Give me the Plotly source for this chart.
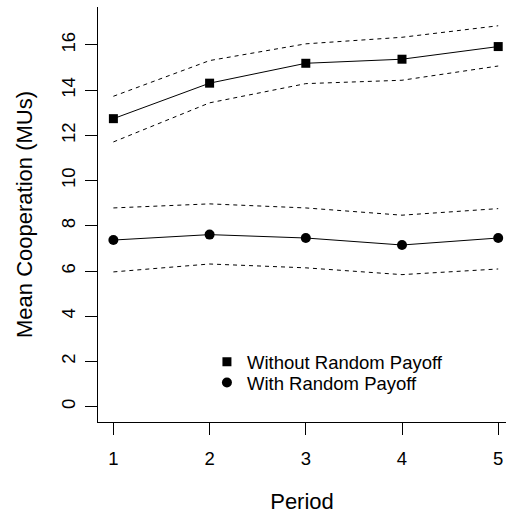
import plotly.graph_objects as go

periods = [1, 2, 3, 4, 5]

without_mean = [12.74, 14.31, 15.19, 15.37, 15.93]
without_upper = [13.73, 15.31, 16.05, 16.34, 16.85]
without_lower = [11.71, 13.44, 14.29, 14.44, 15.07]

with_mean = [7.37, 7.61, 7.46, 7.15, 7.46]
with_upper = [8.79, 8.97, 8.79, 8.47, 8.76]
with_lower = [5.96, 6.31, 6.14, 5.84, 6.09]

y_ticks = [0, 2, 4, 6, 8, 10, 12, 14, 16]
x_ticks = [1, 2, 3, 4, 5]

FONT = "Liberation Sans, Arial, sans-serif"
FS = 18.5

fig = go.Figure()

dash_style = dict(color="black", width=1, dash="4px,4px")

for ys in (without_upper, without_lower, with_upper, with_lower):
    fig.add_trace(go.Scatter(x=periods, y=ys, mode="lines", line=dash_style,
                             showlegend=False, hoverinfo="skip", cliponaxis=False))

fig.add_trace(go.Scatter(x=periods, y=without_mean, mode="lines+markers",
                         line=dict(color="black", width=1),
                         marker=dict(symbol="square", size=9, color="black"),
                         showlegend=False, name="Without Random Payoff", cliponaxis=False))
fig.add_trace(go.Scatter(x=periods, y=with_mean, mode="lines+markers",
                         line=dict(color="black", width=1),
                         marker=dict(symbol="circle", size=10, color="black"),
                         showlegend=False, name="With Random Payoff", cliponaxis=False))

# legend entries (markers only)
fig.add_trace(go.Scatter(x=[None], y=[None], mode="markers",
                         marker=dict(symbol="square", size=9, color="black"),
                         name="Without Random Payoff", legend="legend"))
fig.add_trace(go.Scatter(x=[None], y=[None], mode="markers",
                         marker=dict(symbol="circle", size=10, color="black"),
                         name="With Random Payoff", legend="legend2"))

legend_common = dict(xanchor="left", yanchor="top", bgcolor="rgba(0,0,0,0)",
                     font=dict(size=FS), itemsizing="trace")

fig.update_layout(
    width=506, height=514,
    margin=dict(l=98, r=0, t=7, b=92, autoexpand=False),
    plot_bgcolor="white", paper_bgcolor="white",
    font=dict(family=FONT, size=FS, color="black"),
    legend=dict(x=0.267, y=0.190, **legend_common),
    legend2=dict(x=0.267, y=0.140, **legend_common),
    xaxis=dict(range=[0.84, 5.081], tickvals=x_ticks, ticktext=[str(v) for v in x_ticks],
               showgrid=False, zeroline=False, showline=True, linecolor="black",
               linewidth=1, ticks="outside", ticklen=12, tickcolor="black",
               automargin=False,
               title=dict(text="Period", standoff=28), ticklabelstandoff=8),
    yaxis=dict(range=[-0.68, 17.68], tickvals=y_ticks, ticktext=[str(v) for v in y_ticks],
               showgrid=False, zeroline=False, showline=True, linecolor="black",
               linewidth=1, ticks="outside", ticklen=12, tickcolor="black",
               tickangle=-90, automargin=False, ticklabelstandoff=3,
               title=dict(text="Mean Cooperation (MUs)", standoff=18)),
)

fig.write_html("out.html", config={"displayModeBar": False},
               post_script="document.body.style.margin='0';document.body.style.overflow='hidden';")
